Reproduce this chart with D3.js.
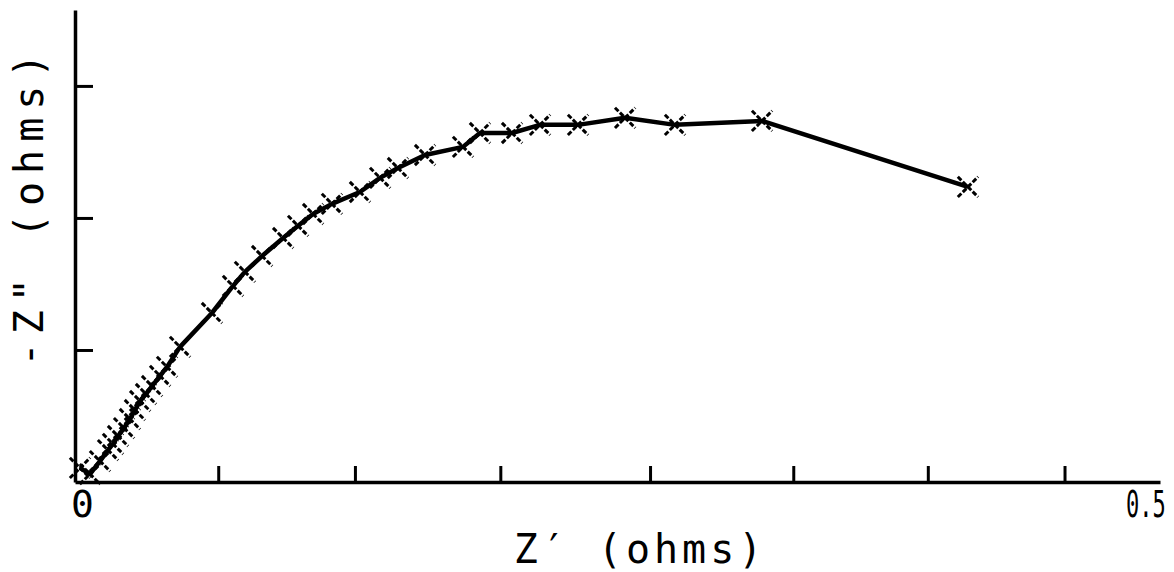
<!DOCTYPE html>
<html>
<head>
<meta charset="utf-8">
<script src="https://cdn.jsdelivr.net/npm/d3@7"></script>
<style>
  body { margin: 0; background: #fff; }
  svg { display: block; }
</style>
</head>
<body>
<svg id="chart"></svg>
<script>
// Nyquist plot, values (ohms)
var zReal = [0.0023, 0.0069, 0.0115, 0.0152, 0.0175, 0.0198, 0.0226, 0.0253, 0.0276, 0.0300,
             0.0327, 0.0355, 0.0392, 0.0424, 0.0484, 0.0631, 0.0728, 0.0783, 0.0862, 0.0959,
             0.1028, 0.1097, 0.1184, 0.1313, 0.1406, 0.1488, 0.1613, 0.1788, 0.1866, 0.2014,
             0.2143, 0.2318, 0.2535, 0.2765, 0.3166, 0.4115];
var zImag = [0.0064, 0.0036, 0.0095, 0.0145, 0.0173, 0.0209, 0.0245, 0.0286, 0.0327, 0.0368,
             0.0400, 0.0436, 0.0482, 0.0523, 0.0614, 0.0768, 0.0891, 0.0955, 0.1027, 0.1109,
             0.1164, 0.1218, 0.1264, 0.1318, 0.1382, 0.1427, 0.1486, 0.1523, 0.1586, 0.1586,
             0.1623, 0.1623, 0.1655, 0.1623, 0.1641, 0.1341];

var xTicks = [0.066, 0.129, 0.196, 0.265, 0.331, 0.393, 0.456];
var yTicks = [0.06, 0.12, 0.18];
var xLabels = [[0, '0'], [0.5, '0.5']];

var w = 1174, h = 572;
var font = '"DejaVu Sans Mono", "Liberation Mono", monospace';

var svg = d3.select('#chart')
    .attr('width', w)
    .attr('height', h);

var x = d3.scaleLinear().domain([0, 0.5]).range([75, 1160]);
var y = d3.scaleLinear().domain([0, 0.2145]).range([482, 10]);

var points = zReal.map(function(d, i) { return [d, zImag[i]]; });

// axes
var xAxis = svg.append('g')
    .attr('transform', 'translate(0,' + y(0) + ')')
    .call(d3.axisBottom(x).tickValues(xTicks).tickSize(-16).tickSizeOuter(0).tickFormat(''));
var yAxis = svg.append('g')
    .attr('transform', 'translate(' + x(0) + ',0)')
    .call(d3.axisLeft(y).tickValues(yTicks).tickSize(-18).tickSizeOuter(0).tickFormat(''));

[xAxis, yAxis].forEach(function(a) {
  a.select('.domain').attr('stroke', '#000').attr('stroke-width', 3.5);
  a.selectAll('.tick line').attr('stroke', '#000').attr('stroke-width', 3);
});

// tick labels at both ends of the x axis (the right one squeezed against the edge)
svg.selectAll('text.xlab')
    .data(xLabels)
    .enter()
    .append('text')
    .attr('class', 'xlab')
    .attr('transform', function(d) {
      return d[0] == 0 ? 'translate(' + (x(d[0]) - 4) + ',517)'
                       : 'translate(' + (x(d[0]) - 34) + ',517) scale(0.58,1)';
    })
    .attr('font-family', font)
    .attr('font-size', 38)
    .attr('fill', '#000')
    .text(function(d) { return d[1]; });

// axis titles
svg.append('text')
    .attr('x', 640)
    .attr('y', 563)
    .attr('text-anchor', 'middle')
    .attr('font-family', font)
    .attr('font-size', 40)
    .attr('letter-spacing', 4)
    .attr('fill', '#000')
    .text('Z\u2032 (ohms)');

svg.append('text')
    .attr('transform', 'translate(43,206) rotate(-90)')
    .attr('text-anchor', 'middle')
    .attr('font-family', font)
    .attr('font-size', 40)
    .attr('letter-spacing', 8)
    .attr('fill', '#000')
    .text('-Z" (ohms)');

// data line
var line = d3.line()
    .x(function(d) { return x(d[0]); })
    .y(function(d) { return y(d[1]); });

svg.append('path')
    .datum(points)
    .attr('d', line)
    .attr('fill', 'none')
    .attr('stroke', '#000')
    .attr('stroke-width', 4.5)
    .attr('stroke-linejoin', 'round');

// x markers
var marker = d3.symbol().type(d3.symbolX).size(270);
svg.selectAll('path.pt')
    .data(points)
    .enter()
    .append('path')
    .attr('class', 'pt')
    .attr('d', marker)
    .attr('transform', function(d) { return 'translate(' + x(d[0]) + ',' + y(d[1]) + ')'; })
    .attr('fill', 'none')
    .attr('stroke', '#000')
    .attr('stroke-width', 3)
    .attr('stroke-dasharray', '5,2');
</script>
</body>
</html>
